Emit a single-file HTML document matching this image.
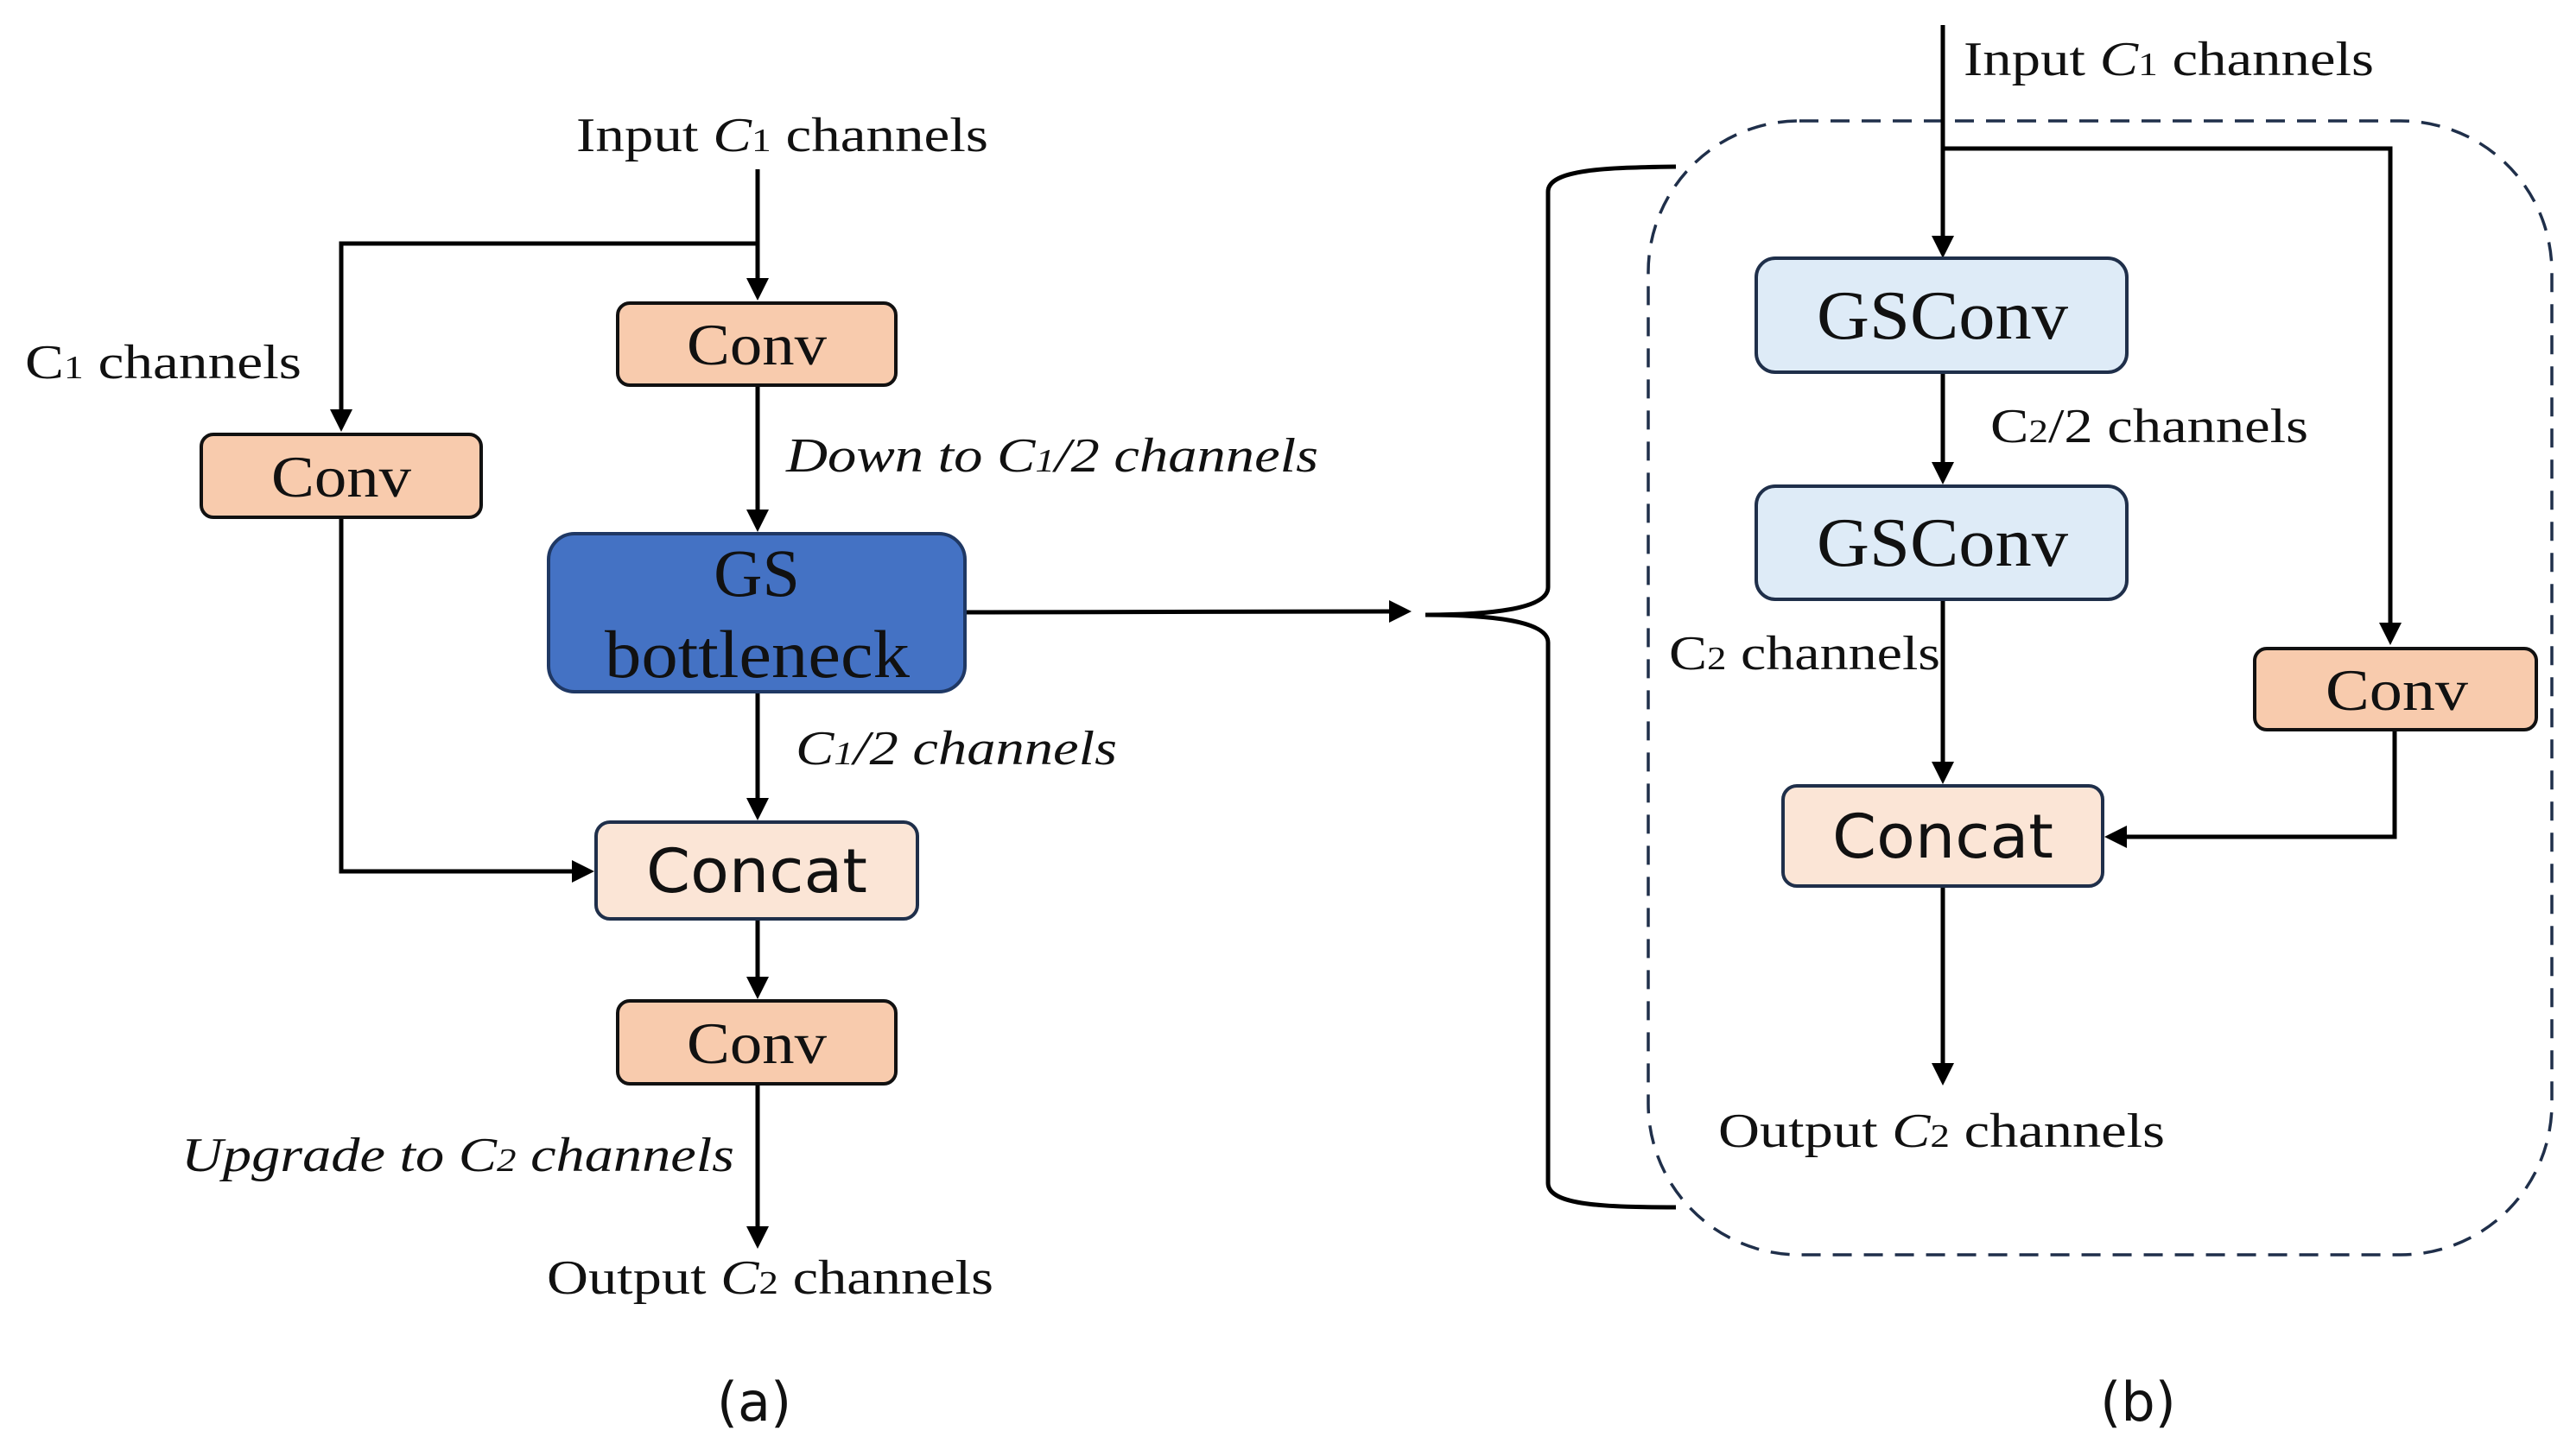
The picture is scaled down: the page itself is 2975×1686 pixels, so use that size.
<!DOCTYPE html>
<html><head><meta charset="utf-8"><style>
html,body{margin:0;padding:0;background:#fff;}
svg{display:block;}
.s{font-family:"Liberation Serif",serif;fill:#111;}
.a{font-family:"DejaVu Sans","Liberation Sans",sans-serif;fill:#111;}
</style></head><body>
<svg width="2975" height="1686" viewBox="0 0 2975 1686" xmlns="http://www.w3.org/2000/svg">
<g stroke="#000" stroke-width="5" fill="none">
<line x1="877" y1="196" x2="877" y2="325"/>
<polyline points="877,282 395,282 395,477"/>
<line x1="877" y1="446" x2="877" y2="592"/>
<line x1="877" y1="801" x2="877" y2="926"/>
<polyline points="395,599 395,1009 664,1009"/>
<line x1="877" y1="1064" x2="877" y2="1133"/>
<line x1="877" y1="1255" x2="877" y2="1423"/>
<line x1="1117" y1="709" x2="1610" y2="708"/>
<path d="M1650,712 C1720,712 1792,706 1792,680 L1792,222 C1792,196 1860,194 1940,193"/>
<path d="M1650,712 C1720,712 1792,718 1792,744 L1792,1370 C1792,1396 1860,1398 1940,1398"/>
</g>
<g fill="#000">
<polygon points="864,322 890,322 877,348"/>
<polygon points="382,474 408,474 395,500"/>
<polygon points="864,590 890,590 877,616"/>
<polygon points="864,924 890,924 877,950"/>
<polygon points="662,996 662,1022 688,1009"/>
<polygon points="864,1131 890,1131 877,1157"/>
<polygon points="864,1420 890,1420 877,1446"/>
<polygon points="1608,695 1608,721 1634,708"/>
</g>
<rect x="1908" y="140" width="1046" height="1313" rx="175" ry="175" fill="none" stroke="#1f2f4a" stroke-width="3.5" stroke-dasharray="22,14"/>
<g transform="translate(-11,0)">
<g stroke="#000" stroke-width="5" fill="none">
<line x1="2260" y1="29" x2="2260" y2="275"/>
<polyline points="2262,172 2778,172 2778,723"/>
<line x1="2260" y1="433" x2="2260" y2="537"/>
<line x1="2260" y1="694" x2="2260" y2="884"/>
<polyline points="2783,845 2783,969 2471,969"/>
<line x1="2260" y1="1026" x2="2260" y2="1233"/>
</g>
<g fill="#000">
<polygon points="2247,273 2273,273 2260,299"/>
<polygon points="2765,721 2791,721 2778,747"/>
<polygon points="2247,535 2273,535 2260,561"/>
<polygon points="2247,882 2273,882 2260,908"/>
<polygon points="2473,956 2473,982 2447,969"/>
<polygon points="2247,1231 2273,1231 2260,1257"/>
</g>
<rect x="2044" y="299" width="429" height="132" rx="22" fill="#DEEBF7" stroke="#1f2f4a" stroke-width="4"/>
<rect x="2044" y="563" width="429" height="131" rx="22" fill="#DEEBF7" stroke="#1f2f4a" stroke-width="4"/>
<rect x="2621" y="751" width="326" height="94" rx="14" fill="#F8CBAD" stroke="#111" stroke-width="4"/>
<rect x="2075" y="910" width="370" height="116" rx="16" fill="#FBE5D6" stroke="#1f2f4a" stroke-width="4"/>
<text class="s" x="2114" y="392" font-size="80" textLength="291" lengthAdjust="spacingAndGlyphs">GSConv</text>
<text class="s" x="2114" y="655" font-size="80" textLength="291" lengthAdjust="spacingAndGlyphs">GSConv</text>
<text class="s" x="2703" y="822" font-size="68" textLength="165" lengthAdjust="spacingAndGlyphs">Conv</text>
<text class="a" x="2132" y="993" font-size="70" textLength="256" lengthAdjust="spacingAndGlyphs">Concat</text>
<text class="s" x="2284" y="87" font-size="56" textLength="475" lengthAdjust="spacingAndGlyphs">Input <tspan font-style="italic">C</tspan><tspan font-size="38">1</tspan> channels</text>
<text class="s" x="2315" y="512" font-size="56" textLength="368" lengthAdjust="spacingAndGlyphs">C<tspan font-size="38">2</tspan>/2 channels</text>
<text class="s" x="1943" y="775" font-size="56" textLength="314" lengthAdjust="spacingAndGlyphs">C<tspan font-size="38">2</tspan> channels</text>
<text class="s" x="2000" y="1328" font-size="56" textLength="517" lengthAdjust="spacingAndGlyphs">Output <tspan font-style="italic">C</tspan><tspan font-size="38">2</tspan> channels</text>
</g>
<rect x="715" y="351" width="322" height="95" rx="14" fill="#F8CBAD" stroke="#111" stroke-width="4"/>
<rect x="233" y="503" width="324" height="96" rx="14" fill="#F8CBAD" stroke="#111" stroke-width="4"/>
<rect x="635" y="618" width="482" height="183" rx="30" fill="#4472C4" stroke="#1f3864" stroke-width="4"/>
<rect x="690" y="952" width="372" height="112" rx="16" fill="#FBE5D6" stroke="#1f2f4a" stroke-width="4"/>
<rect x="715" y="1159" width="322" height="96" rx="14" fill="#F8CBAD" stroke="#111" stroke-width="4"/>
<text class="s" x="795" y="422" font-size="68" textLength="162" lengthAdjust="spacingAndGlyphs">Conv</text>
<text class="s" x="314" y="575" font-size="68" textLength="162" lengthAdjust="spacingAndGlyphs">Conv</text>
<text class="s" x="876" y="690" font-size="78" text-anchor="middle">GS</text>
<text class="s" x="700" y="784" font-size="78" textLength="353" lengthAdjust="spacingAndGlyphs">bottleneck</text>
<text class="a" x="748" y="1033" font-size="70" textLength="256" lengthAdjust="spacingAndGlyphs">Concat</text>
<text class="s" x="795" y="1231" font-size="68" textLength="162" lengthAdjust="spacingAndGlyphs">Conv</text>
<text class="s" x="667" y="175" font-size="56" textLength="477" lengthAdjust="spacingAndGlyphs">Input <tspan font-style="italic">C</tspan><tspan font-size="38">1</tspan> channels</text>
<text class="s" x="29" y="438" font-size="56" textLength="320" lengthAdjust="spacingAndGlyphs">C<tspan font-size="38">1</tspan> channels</text>
<text class="s" x="910" y="546" font-size="56" font-style="italic" textLength="616" lengthAdjust="spacingAndGlyphs">Down to C<tspan font-size="38">1</tspan>/2 channels</text>
<text class="s" x="921" y="885" font-size="56" font-style="italic" textLength="372" lengthAdjust="spacingAndGlyphs">C<tspan font-size="38">1</tspan>/2 channels</text>
<text class="s" x="210" y="1356" font-size="56" font-style="italic" textLength="640" lengthAdjust="spacingAndGlyphs">Upgrade to C<tspan font-size="38">2</tspan> channels</text>
<text class="s" x="633" y="1498" font-size="56" textLength="517" lengthAdjust="spacingAndGlyphs">Output <tspan font-style="italic">C</tspan><tspan font-size="38">2</tspan> channels</text>
<text class="a" x="873" y="1645" font-size="62" text-anchor="middle">(a)</text>
<text class="a" x="2475" y="1645" font-size="62" text-anchor="middle">(b)</text>
</svg>
</body></html>
